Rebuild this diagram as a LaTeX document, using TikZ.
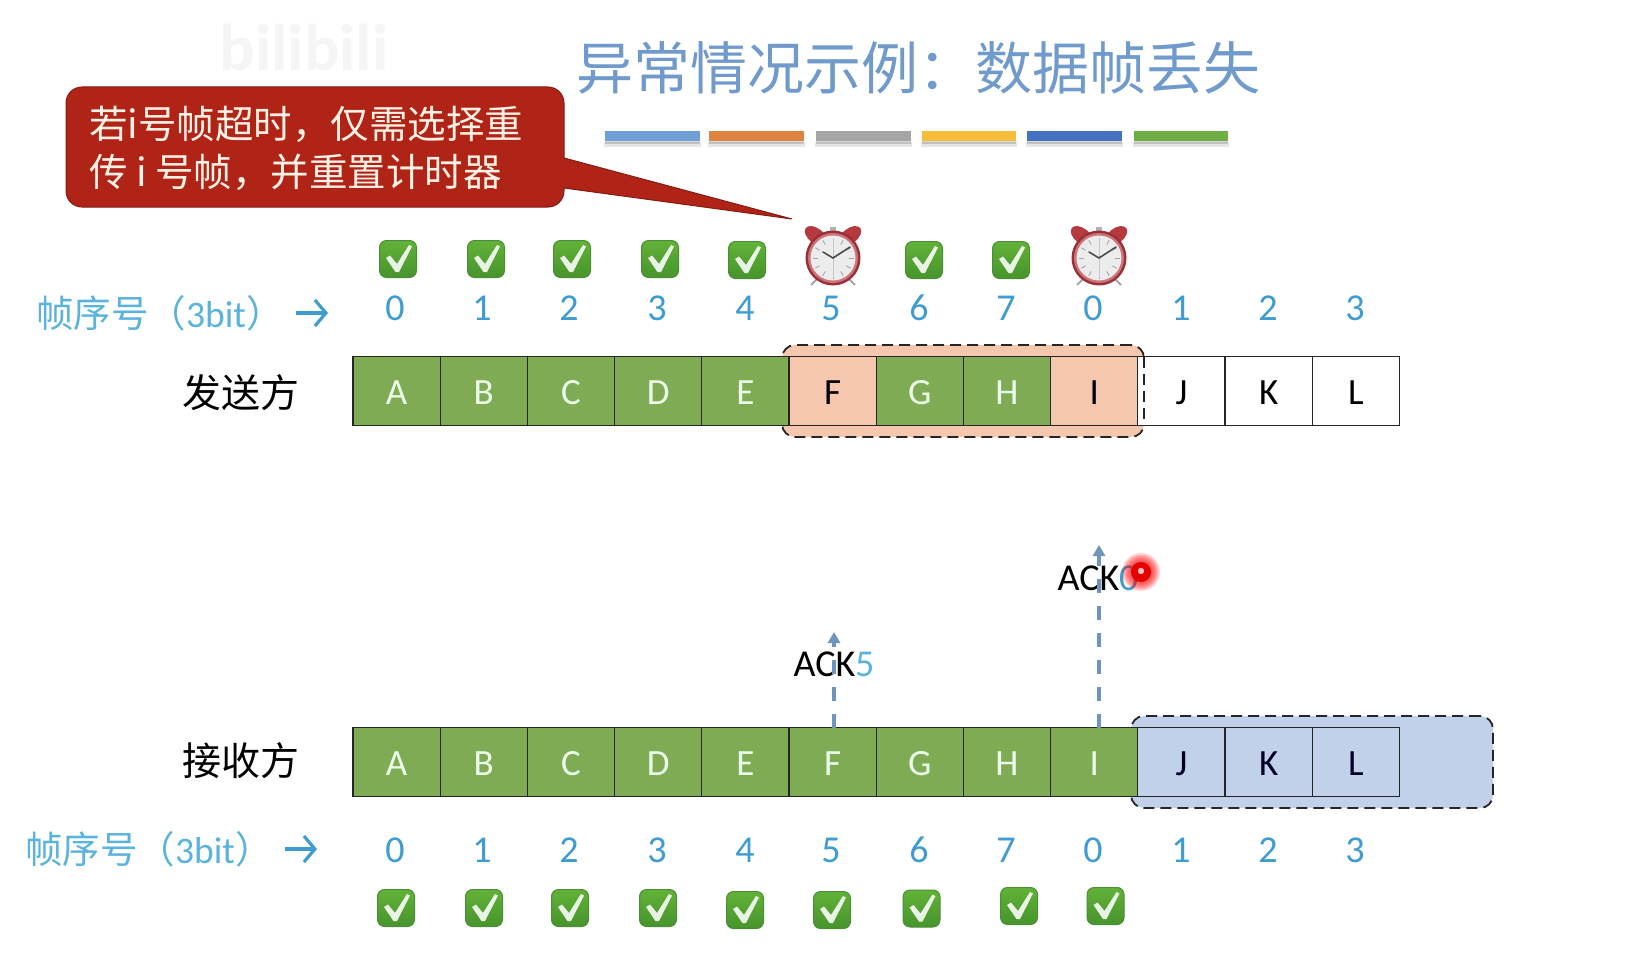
\documentclass[tikz,border=0pt]{standalone}
\usepackage{fontspec}
\setmainfont{Carlito}
\newfontfamily\cjk{Noto Sans CJK SC}
\usetikzlibrary{arrows.meta,calc}
\newcommand{\fwcolon}{\char"FF1A\relax}
\newcommand{\fwcomma}{\char"FF0C\relax}
\newcommand{\fwopen}{\char"FF08\relax}
\newcommand{\fwclose}{\char"FF09\relax}
\definecolor{cellgreen}{HTML}{7FAB55}
\definecolor{cellpeach}{HTML}{F4C7AE}
\definecolor{cellblue}{HTML}{C0D1E9}
\definecolor{numblue}{HTML}{3F9CD0}
\definecolor{lblblue}{HTML}{5AB3DC}
\definecolor{titleblue}{HTML}{6F9ACB}
\definecolor{ackline}{HTML}{6E95C0}
\definecolor{callred}{HTML}{B02418}
\definecolor{clockred}{HTML}{B5393F}
\definecolor{chktop}{HTML}{62B238}
\definecolor{chkbot}{HTML}{46942C}
\definecolor{chkedge}{HTML}{4A8F38}
\newcommand{\chkat}[2]{%
  \begin{scope}[shift={(#1,#2)}]
    \shade[top color=chktop,bottom color=chkbot,draw=chkedge,line width=1pt,rounded corners=7pt]
      (-18.5,-18.5) rectangle (18.5,18.5);
    \fill[white,opacity=.88] (-12,-1) -- (-8,-3.5) -- (-1,5) -- (11,-14) -- (14,-12.5) -- (1,13) -- (-2.5,13) -- cycle;
  \end{scope}}
\newcommand{\clockat}[2]{%
  \begin{scope}[shift={(#1,#2)}]
    \draw[gray!70,line width=1.8pt] (-15,20) -- (-22,27) (15,20) -- (22,27);
    \fill[gray!60] (-3,-31) rectangle (3,-27);
    \fill[clockred,rotate around={-38:(-17,-22)}] (-17,-22) ellipse (13 and 7.5);
    \fill[clockred,rotate around={38:(17,-22)}] (17,-22) ellipse (13 and 7.5);
    \fill[clockred!85!black] (0,0) circle (27.5);
    \fill[clockred!70!white] (0,0) circle (25);
    \fill[gray!15] (0,0) circle (22.5);
    \foreach \a in {0,30,...,330}
      \draw[gray!70,line width=.9pt] (\a:15.5) -- (\a:20.5);
    \draw[gray!45,line width=.7pt] (0,-20) -- (0,20);
    \draw[gray!60!black,line width=1.6pt,line cap=round] (-10,-6) -- (0,0) -- (17,-11);
  \end{scope}}
\tikzset{
  cellbox/.style={draw=black!85,line width=1.3pt,minimum width=87.2pt,minimum height=69pt,inner sep=0pt,outer sep=0pt,text height=27pt,text depth=0pt,font=\fontsize{37}{37}\selectfont},
  greencell/.style={cellbox,fill=cellgreen,text=white!92!green},
  peachcell/.style={cellbox,fill=cellpeach,text=black},
  whitecell/.style={cellbox,fill=white,text=black},
  bluecell/.style={cellbox,fill=cellblue,text=black!85!blue},
  numlbl/.style={inner sep=0pt,text=numblue,font=\fontsize{38}{38}\selectfont},
  seqlbl/.style={inner sep=0pt,anchor=west,text=lblblue,font=\cjk\fontsize{37.5}{37.5}\selectfont},
  sidelbl/.style={inner sep=0pt,text=black,font=\cjk\fontsize{39}{39}\selectfont},
  windowbox/.style={draw=black!85,dash pattern=on 11pt off 6pt,line width=1.8pt,rounded corners=13pt,inner sep=0pt,outer sep=0pt},
  acklbl/.style={inner sep=0pt,text=black,font=\fontsize{38}{38}\selectfont},
  ackarrow/.style={draw=ackline,line width=3.2pt,dash pattern=on 14pt off 13pt,-{Triangle[length=11pt,width=12pt,fill=ackline]}},
  seqarrow/.style={draw=numblue,line width=3.2pt,-{Straight Barb[length=11pt,width=26pt,line width=3.2pt]}},
  barshape/.style={inner sep=0pt,outer sep=0pt,minimum height=10pt,minimum width=95pt},
}
\begin{document}
\begin{tikzpicture}[x=1pt,y=-1pt]
\useasboundingbox (0,0) rectangle (1639,955);
\fill[white] (0,0) rectangle (1639,955);

% watermark
\node[inner sep=0pt,text=black!4,font=\bfseries\fontsize{66}{66}\selectfont] (wm) at (304,48) {bilibili};

% title + bars
\node[inner sep=0pt,text=titleblue,font=\cjk\fontsize{57}{57}\selectfont] (title) at (918,68) {异常情况示例\fwcolon 数据帧丢失};
\foreach \n/\x/\w/\c in {a/652.5/95/6FA0D6,b/756/95/DC8440,c/863.5/95/A5A5A5,d/969/94/F6BD3A,e/1074.5/95/4472C0,f/1181/94/70AD47}{
  \definecolor{barcol}{HTML}{\c}
  \fill[black,opacity=.1] (\x-\w/2-1,142) rectangle (\x+\w/2+1,147);
  \fill[black,opacity=.16] (\x-\w/2,141) rectangle (\x+\w/2,144.5);
  \node[barshape,minimum width=\w pt,fill=barcol] (bar\n) at (\x,136) {};
}

% callout
\path[fill=callred,draw=callred!75!black,line width=1pt,rounded corners=16pt]
  (66,87) -- (564,87) [sharp corners] -- (564,158) -- (792,219) -- (564,188) [rounded corners=16pt] -- (564,207) -- (66,207) -- cycle;
\node[inner sep=0pt,anchor=west,align=left,text=white!90!orange,font=\cjk\fontsize{38.5}{48}\selectfont] (callout) at (89,148)
  {若i号帧超时\fwcomma 仅需选择重\\传 i 号帧\fwcomma 并重置计时器};

% sequence labels
\node[seqlbl] (seqtop) at (36,313) {帧序号\fwopen{\fontspec{Carlito}3bit}\fwclose};
\coordinate (seqtopA) at (296,313); \coordinate (seqtopB) at (328,313);
\draw[seqarrow] (seqtopA) -- (seqtopB);
\node[seqlbl] (seqbot) at (25,849) {帧序号\fwopen{\fontspec{Carlito}3bit}\fwclose};
\coordinate (seqbotA) at (285,849); \coordinate (seqbotB) at (317,849);
\draw[seqarrow] (seqbotA) -- (seqbotB);

% side labels
\node[sidelbl] (sender) at (241,393) {发送方};
\node[sidelbl] (receiver) at (241,761) {接收方};

% windows
\node[windowbox,fill=cellpeach,minimum width=362pt,minimum height=92pt] (swin) at (963,391) {};
\node[windowbox,fill=cellblue,minimum width=362pt,minimum height=92pt] (rwin) at (1312,762) {};

% cells
\foreach \i/\t/\s in {0/A/greencell,1/B/greencell,2/C/greencell,3/D/greencell,4/E/greencell,5/F/peachcell,6/G/greencell,7/H/greencell,8/I/peachcell,9/J/whitecell,10/K/whitecell,11/L/whitecell}
  \node[\s] (s\t) at ({353+87.2*(\i+.5)},391) {\t};
\foreach \i/\t/\s in {0/A/greencell,1/B/greencell,2/C/greencell,3/D/greencell,4/E/greencell,5/F/greencell,6/G/greencell,7/H/greencell,8/I/greencell,9/J/bluecell,10/K/bluecell,11/L/bluecell}
  \node[\s] (r\t) at ({353+87.2*(\i+.5)},762) {\t};

% sender window's right edge runs over cell J
\draw[draw=black!85,dash pattern=on 11pt off 6pt,line width=1.8pt] (swin.east |- sJ.north) -- (swin.east |- sJ.south);

% numbers
\foreach \t/\v/\x in {a/0/395,b/1/482,c/2/569,d/3/657,e/4/745,f/5/831,g/6/919,h/7/1006,i/0/1093,j/1/1181,k/2/1268,l/3/1355}{
  \node[numlbl] (nt\t) at (\x,308) {\v};
  \node[numlbl] (nb\t) at (\x,850) {\v};
}

% status icons
\chkat{398}{259}\chkat{486}{259}\chkat{572}{259}\chkat{660}{259}\chkat{747}{260}\chkat{924}{260}\chkat{1011}{260}
\clockat{833}{258}\clockat{1099}{258}
\chkat{396}{908}\chkat{484}{908}\chkat{570}{908}\chkat{658}{908}\chkat{745}{910}\chkat{832}{910}\chkat{921.5}{908.5}\chkat{1019}{906}\chkat{1105.5}{906}

% ACKs
\node[acklbl] (ack5) at (834,664) {ACK\textcolor{lblblue}{5}};
\node[acklbl] (ack0) at (1098,578) {ACK\textcolor{numblue}{0}};
\coordinate (ack5end) at (834,632);
\coordinate (ack0end) at (1099,545);
\draw[ackarrow] (rF.north -| ack5end) -- (ack5end);
\draw[ackarrow] (rI.north -| ack0end) -- (ack0end);

% laser pointer
\foreach \r in {19,17.5,...,10}
  \fill[red,opacity=.16] (1141,572) circle (\r);
\fill[red!90!black] (1141,572) circle (10);
\fill[white!75!red] (1141,571) circle (3.2);
\end{tikzpicture}
\end{document}
